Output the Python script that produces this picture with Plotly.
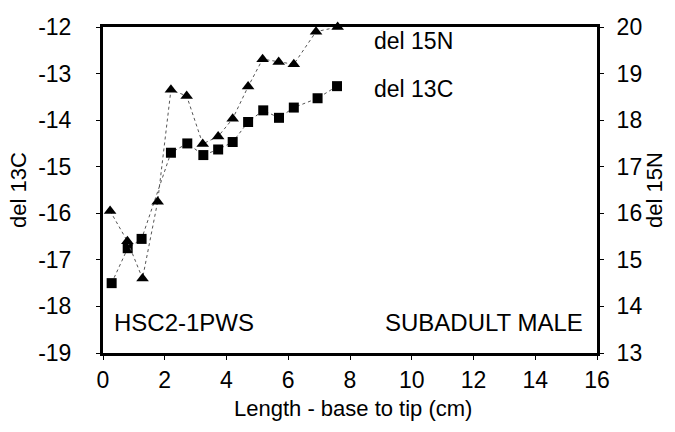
import plotly.graph_objects as go

# del 13C series (left axis)
c_length = [0.28, 0.8, 1.25, 2.2, 2.73, 3.25, 3.73, 4.2, 4.7, 5.19, 5.7, 6.18, 6.95, 7.58]
c_del13c = [-17.5, -16.75, -16.55, -14.7, -14.5, -14.75, -14.63, -14.47, -14.04, -13.79, -13.95, -13.73, -13.53, -13.27]

# del 15N series (right axis)
n_length = [0.23, 0.79, 1.28, 1.77, 2.2, 2.71, 3.23, 3.73, 4.2, 4.7, 5.17, 5.69, 6.18, 6.9, 7.6]
n_del15n = [16.05, 15.4, 14.6, 16.25, 18.65, 18.52, 17.49, 17.65, 18.03, 18.72, 19.31, 19.25, 19.2, 19.9, 20.0]

x_ticks = [0, 2, 4, 6, 8, 10, 12, 14, 16]
y_left_ticks = [-12, -13, -14, -15, -16, -17, -18, -19]
y_right_ticks = [20, 19, 18, 17, 16, 15, 14, 13]

FONT = "Liberation Sans, Arial, sans-serif"

fig = go.Figure()
fig.add_trace(go.Scatter(
    x=c_length, y=c_del13c, mode="lines+markers", name="del 13C",
    line=dict(color="#555555", width=1, dash="dot"),
    marker=dict(symbol="square", size=10, color="black"),
    yaxis="y", cliponaxis=False,
))
fig.add_trace(go.Scatter(
    x=n_length, y=n_del15n, mode="lines+markers", name="del 15N",
    line=dict(color="#555555", width=1, dash="dot"),
    marker=dict(symbol="triangle-up", size=11, color="black"),
    yaxis="y2", cliponaxis=False,
))

fig.update_layout(
    width=675, height=432,
    margin=dict(l=103, r=78, t=27, b=79),
    paper_bgcolor="white", plot_bgcolor="white",
    showlegend=False,
    font=dict(family=FONT, size=23, color="black"),
    xaxis=dict(
        range=[0, 16], tickvals=x_ticks, ticktext=[str(v) for v in x_ticks],
        showgrid=False, zeroline=False, automargin=False,
        showline=True, linecolor="black", linewidth=3, mirror=True,
        ticks="outside", ticklen=4, tickcolor="black", tickwidth=1,
        ticklabelstandoff=0,
    ),
    yaxis=dict(
        range=[-19, -12], tickvals=y_left_ticks, ticktext=[str(v) for v in y_left_ticks],
        showgrid=False, zeroline=False, automargin=False,
        showline=True, linecolor="black", linewidth=3,
        ticks="outside", ticklen=4, tickcolor="black", tickwidth=1,
        ticklabelstandoff=20,
        title=dict(text="del 13C", font=dict(size=22), standoff=6),
    ),
    yaxis2=dict(
        range=[13, 20], tickvals=y_right_ticks, ticktext=[str(v) for v in y_right_ticks],
        overlaying="y", side="right",
        showgrid=False, zeroline=False, automargin=False,
        showline=True, linecolor="black", linewidth=3,
        ticks="outside", ticklen=4, tickcolor="black", tickwidth=1,
        ticklabelstandoff=8,
        title=dict(text="del 15N", font=dict(size=22), standoff=4),
    ),
    annotations=[
        dict(x=0.506, y=-0.169, xref="paper", yref="paper", text="Length - base to tip (cm)",
             showarrow=False, xanchor="center", yanchor="middle", font=dict(size=22)),
        dict(x=8.7, y=-12.3, xref="x", yref="y", text="del 15N", showarrow=False,
             xanchor="left", yanchor="middle", font=dict(size=23)),
        dict(x=8.7, y=-13.34, xref="x", yref="y", text="del 13C", showarrow=False,
             xanchor="left", yanchor="middle", font=dict(size=23)),
        dict(x=0.3, y=-18.35, xref="x", yref="y", text="HSC2-1PWS", showarrow=False,
             xanchor="left", yanchor="middle", font=dict(size=24)),
        dict(x=15.6, y=-18.35, xref="x", yref="y", text="SUBADULT MALE", showarrow=False,
             xanchor="right", yanchor="middle", font=dict(size=24)),
    ],
)

fig.write_html("out.html", config={"displayModeBar": False},
               post_script="document.body.style.margin='0';")
